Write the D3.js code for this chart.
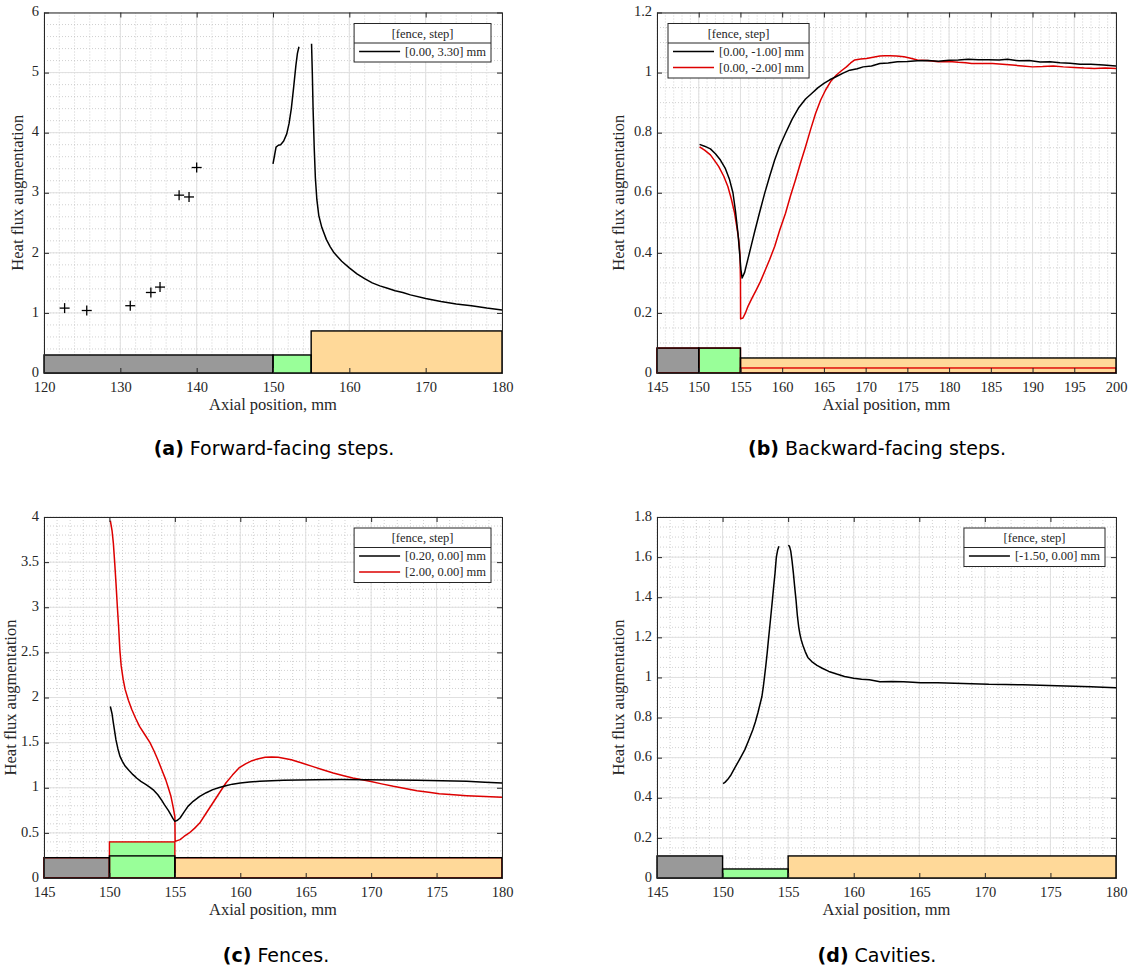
<!DOCTYPE html>
<html>
<head>
<meta charset="utf-8">
<script src="https://cdn.jsdelivr.net/npm/d3@7"></script>
<style>
    body { margin: 0; background: #fff; }
    svg text { font-family: "Liberation Serif", serif; fill: #262626; }
    svg text.caption { font-family: "DejaVu Sans", sans-serif; fill: #000; }
</style>
</head>
<body>
<svg id="fig" width="1131" height="970"></svg>
<script>
// ---- values ----

var xTicksA = [120, 130, 140, 150, 160, 170, 180];
var yTicksA = [0, 1, 2, 3, 4, 5, 6];
var xTicksB = [145, 150, 155, 160, 165, 170, 175, 180, 185, 190, 195, 200];
var yTicksB = [0, 0.2, 0.4, 0.6, 0.8, 1, 1.2];
var xTicksCD = [145, 150, 155, 160, 165, 170, 175, 180];
var yTicksC = [0, 0.5, 1, 1.5, 2, 2.5, 3, 3.5, 4];
var yTicksD = [0, 0.2, 0.4, 0.6, 0.8, 1, 1.2, 1.4, 1.6, 1.8];

var legendTitle = "[fence, step]";
var fwdLabels = ["[0.00, 3.30] mm"];
var bwdLabels = ["[0.00, -1.00] mm", "[0.00, -2.00] mm"];
var fenceLabels = ["[0.20, 0.00] mm", "[2.00, 0.00] mm"];
var cavityLabels = ["[-1.50, 0.00] mm"];

var captionTags = ["(a)", "(b)", "(c)", "(d)"];
var captionTexts = [" Forward-facing steps.", " Backward-facing steps.", " Fences.", " Cavities."];

// forward-facing step: scattered points upstream, then the profile in two pieces
var fwdMarkers = [[122.7, 1.08], [125.6, 1.04], [131.3, 1.12], [134.0, 1.34], [135.2, 1.43],
    [137.7, 2.96], [139.0, 2.93], [140.0, 3.42]];
var fwdRise = [[150.0, 3.48], [150.2, 3.62], [150.4, 3.76], [150.7, 3.79], [151.0, 3.80], [151.4, 3.86],
    [151.8, 3.98], [152.1, 4.15], [152.4, 4.40], [152.7, 4.75], [153.0, 5.12], [153.2, 5.32], [153.4, 5.43]];
var fwdFall = [[155.05, 5.48], [155.15, 5.0], [155.25, 4.4], [155.4, 3.75], [155.55, 3.25], [155.75, 2.88],
    [156.0, 2.62], [156.4, 2.42], [157.0, 2.22], [157.5, 2.10], [158, 2.0], [159, 1.86], [160, 1.75],
    [161, 1.65], [162, 1.57], [163, 1.50], [164, 1.45], [165, 1.41], [166, 1.37], [167, 1.34], [168, 1.30],
    [170, 1.24], [172, 1.19], [174, 1.15], [176, 1.12], [178, 1.08], [180, 1.05]];
var fwdGeometry = [[120, 150, 0.30], [150, 155, 0.30], [155, 180, 0.70]];

// backward-facing steps
var bwdStep1 = [[150.1, 0.761], [150.7, 0.755], [151.4, 0.746], [152.0, 0.730], [152.6, 0.709], [153.2, 0.680],
    [153.7, 0.643], [154.1, 0.600], [154.4, 0.540], [154.7, 0.465], [154.9, 0.400], [155.05, 0.345],
    [155.2, 0.316], [155.5, 0.335], [155.9, 0.380], [156.3, 0.425], [156.7, 0.470], [157.3, 0.535],
    [157.9, 0.598], [158.5, 0.655], [159.1, 0.709], [159.7, 0.755], [160.4, 0.798], [161.2, 0.845],
    [162.0, 0.884], [162.8, 0.912], [163.6, 0.932], [164.3, 0.950], [165.0, 0.964], [165.7, 0.976],
    [166.5, 0.987], [167.3, 0.998], [168.1, 1.008], [169.0, 1.013], [169.7, 1.019], [170.7, 1.022],
    [171.7, 1.030], [172.7, 1.032], [173.8, 1.036], [175.0, 1.037], [176.2, 1.039], [177.5, 1.040],
    [178.7, 1.038], [180.0, 1.041], [181.1, 1.042], [182.3, 1.044], [183.5, 1.043], [184.7, 1.043],
    [186.0, 1.042], [187.0, 1.044], [188.4, 1.039], [189.6, 1.040], [190.9, 1.035], [192.1, 1.036],
    [193.3, 1.033], [194.5, 1.031], [195.7, 1.028], [197.0, 1.028], [198.5, 1.025], [200, 1.022]];
var bwdStep2 = [[150.1, 0.753], [150.7, 0.742], [151.4, 0.726], [151.9, 0.707], [152.4, 0.687], [153.0, 0.655],
    [153.5, 0.620], [153.9, 0.580], [154.3, 0.532], [154.6, 0.480], [154.8, 0.443], [154.95, 0.39],
    [155.0, 0.31], [155.02, 0.18], [155.3, 0.183], [155.6, 0.200], [155.9, 0.222], [156.4, 0.250],
    [156.9, 0.277], [157.4, 0.305], [157.9, 0.338], [158.5, 0.378], [159.1, 0.421], [159.7, 0.475],
    [160.4, 0.532], [161.0, 0.590], [161.6, 0.643], [162.2, 0.700], [162.8, 0.753], [163.4, 0.810],
    [164.0, 0.864], [164.6, 0.908], [165.2, 0.942], [165.8, 0.970], [166.5, 0.992], [167.1, 1.006],
    [167.7, 1.019], [168.2, 1.032], [168.7, 1.042], [169.4, 1.045], [170.1, 1.047], [170.9, 1.051],
    [171.7, 1.055], [172.3, 1.056], [172.9, 1.056], [173.7, 1.055], [174.6, 1.053], [175.4, 1.048],
    [176.2, 1.042], [177.4, 1.040], [178.7, 1.036], [180.0, 1.037], [181.1, 1.034], [182.0, 1.033],
    [182.7, 1.030], [184.0, 1.030], [185.2, 1.030], [186.4, 1.028], [187.6, 1.025], [188.8, 1.022],
    [190.0, 1.019], [191.2, 1.020], [192.5, 1.022], [193.7, 1.019], [195.0, 1.017], [196.2, 1.015],
    [197.4, 1.014], [198.7, 1.015], [200, 1.014]];
var bwdGeometry1 = [[145, 150, 0.083], [150, 155, 0.083], [155, 200, 0.05]];
var bwdGeometry2 = [[145, 150, 0.083], [150, 155, 0.083], [155, 200, 0.0167]];

// fences
var fence02 = [[150.07, 1.90], [150.2, 1.82], [150.3, 1.72], [150.5, 1.53], [150.65, 1.43], [150.8, 1.35],
    [151.0, 1.29], [151.2, 1.24], [151.5, 1.19], [151.8, 1.145], [152.1, 1.105], [152.4, 1.07],
    [152.8, 1.035], [153.1, 1.005], [153.4, 0.97], [153.7, 0.923], [154.0, 0.86], [154.2, 0.813],
    [154.5, 0.75], [154.7, 0.70], [154.85, 0.66], [155.0, 0.628], [155.2, 0.640], [155.4, 0.665],
    [155.7, 0.73], [156.0, 0.794], [156.4, 0.850], [156.9, 0.905], [157.4, 0.945], [157.9, 0.979],
    [158.4, 1.003], [158.9, 1.023], [159.4, 1.040], [160.0, 1.053], [160.7, 1.063], [161.5, 1.071],
    [162.4, 1.077], [163.3, 1.082], [164.5, 1.087], [165.8, 1.090], [167.7, 1.091], [169.6, 1.090],
    [171.5, 1.087], [173.5, 1.082], [175.4, 1.077], [177.3, 1.071], [178.7, 1.062], [180, 1.053]];
var fence20 = [[150.07, 3.96], [150.2, 3.85], [150.3, 3.71], [150.4, 3.50], [150.5, 3.27], [150.6, 3.02],
    [150.7, 2.79], [150.8, 2.52], [150.9, 2.35], [151.05, 2.2], [151.2, 2.09], [151.45, 1.97],
    [151.7, 1.87], [152.0, 1.77], [152.3, 1.68], [152.7, 1.59], [153.1, 1.50], [153.4, 1.41],
    [153.7, 1.31], [154.0, 1.20], [154.3, 1.09], [154.5, 1.00], [154.7, 0.905], [154.85, 0.80],
    [155.0, 0.683], [155.02, 0.406], [155.4, 0.425], [155.7, 0.46], [156.1, 0.499], [156.5, 0.550],
    [156.9, 0.609], [157.4, 0.720], [157.9, 0.831], [158.4, 0.942], [158.9, 1.053], [159.4, 1.140],
    [159.9, 1.219], [160.4, 1.265], [160.9, 1.300], [161.4, 1.322], [161.9, 1.337], [162.4, 1.340],
    [162.9, 1.337], [163.4, 1.325], [163.9, 1.311], [164.7, 1.275], [165.5, 1.237], [166.3, 1.200],
    [167.1, 1.163], [167.9, 1.133], [168.6, 1.108], [169.3, 1.088], [169.9, 1.071], [170.8, 1.043],
    [171.7, 1.016], [172.6, 0.992], [173.5, 0.968], [174.4, 0.950], [175.2, 0.934], [176.3, 0.922],
    [177.3, 0.912], [178.7, 0.902], [180, 0.894]];
var fenceGeometry02 = [[145, 150, 0.225], [150, 155, 0.245], [155, 180, 0.225]];
var fenceGeometry20 = [[145, 150, 0.225], [150, 155, 0.40], [155, 180, 0.225]];

// cavity
var cavityRise = [[150.04, 0.471], [150.2, 0.478], [150.4, 0.492], [150.65, 0.515], [150.9, 0.545],
    [151.3, 0.592], [151.7, 0.640], [152.0, 0.688], [152.3, 0.738], [152.5, 0.778], [152.7, 0.825],
    [152.85, 0.865], [153.0, 0.905], [153.1, 0.950], [153.2, 1.004], [153.3, 1.06], [153.4, 1.121],
    [153.5, 1.19], [153.6, 1.254], [153.7, 1.32], [153.8, 1.387], [153.9, 1.455], [154.0, 1.520],
    [154.1, 1.600], [154.2, 1.635], [154.3, 1.654]];
var cavityFall = [[155.0, 1.659], [155.1, 1.655], [155.2, 1.630], [155.3, 1.58], [155.4, 1.520], [155.5, 1.45],
    [155.6, 1.387], [155.7, 1.31], [155.8, 1.254], [155.9, 1.215], [156.0, 1.187], [156.15, 1.155],
    [156.3, 1.129], [156.5, 1.10], [156.8, 1.079], [157.2, 1.060], [157.6, 1.046], [158.1, 1.030],
    [158.7, 1.017], [159.3, 1.005], [160.0, 0.996], [160.6, 0.991], [161.2, 0.988], [161.6, 0.984],
    [162.0, 0.979], [162.9, 0.980], [163.8, 0.979], [164.5, 0.976], [165.1, 0.974], [166.4, 0.973],
    [167.7, 0.971], [169.0, 0.969], [170.3, 0.966], [171.6, 0.965], [172.9, 0.963], [174.2, 0.961],
    [175.5, 0.958], [176.8, 0.956], [178.1, 0.954], [179.0, 0.951], [180, 0.949]];
var cavityGeometry = [[145, 150, 0.11], [150, 155, 0.045], [155, 180, 0.11]];

// ---- styling / layout ----
var BLACK = "#000000", RED = "#dd0000", AXIS = "#262626";
var blockFills = ["#999999", "#99ff99", "#ffd999"];   // wall, feature, downstream

var svg = d3.select("#fig");
svg.append("rect").attr("width", 1131).attr("height", 970).attr("fill", "#fff");

var panels = [
    { key: "a", left: 44, top: 12.5, w: 458, h: 360.5, xd: [120, 180], yd: [0, 6], xt: xTicksA, yt: yTicksA,
      xm: 2, ym: 0.2, ylabelX: 23, legendRight: true, labels: fwdLabels, markers: fwdMarkers,
      series: [{ segs: [fwdRise, fwdFall], color: BLACK, geom: fwdGeometry }], capY: 455, capX: 274 },
    { key: "b", left: 657, top: 12.5, w: 459, h: 360.5, xd: [145, 200], yd: [0, 1.2], xt: xTicksB, yt: yTicksB,
      xm: 1, ym: 0.05, ylabelX: 624, legendRight: false, labels: bwdLabels,
      series: [{ segs: [bwdStep1], color: BLACK, geom: bwdGeometry1 },
               { segs: [bwdStep2], color: RED, geom: bwdGeometry2 }], capY: 455, capX: 877 },
    { key: "c", left: 44, top: 517, w: 458, h: 361, xd: [145, 180], yd: [0, 4], xt: xTicksCD, yt: yTicksC,
      xm: 1, ym: 0.1, ylabelX: 15.5, legendRight: true, labels: fenceLabels,
      series: [{ segs: [fence02], color: BLACK, geom: fenceGeometry02 },
               { segs: [fence20], color: RED, geom: fenceGeometry20 }], capY: 962, capX: 276 },
    { key: "d", left: 657, top: 517, w: 459, h: 361, xd: [145, 180], yd: [0, 1.8], xt: xTicksCD, yt: yTicksD,
      xm: 1, ym: 0.05, ylabelX: 624, legendRight: true, labels: cavityLabels,
      series: [{ segs: [cavityRise, cavityFall], color: BLACK, geom: cavityGeometry }], capY: 962, capX: 877 }
];

function minorTicks(domain, step){
    var n = Math.round((domain[1] - domain[0]) / step);
    return d3.range(n + 1).map(function(i){ return domain[0] + i * step; });
}

function fmtTick(v){ return String(+v.toFixed(3)); }

function drawPanel(p, idx){
    var x = d3.scaleLinear().domain(p.xd).range([p.left, p.left + p.w]);
    var y = d3.scaleLinear().domain(p.yd).range([p.top + p.h, p.top]);
    var g = svg.append("g").attr("class", "panel-" + p.key);

    var clipId = "clip-" + p.key;
    svg.append("clipPath").attr("id", clipId).append("rect")
        .attr("x", p.left).attr("y", p.top).attr("width", p.w).attr("height", p.h);

    // minor grid (dotted) then major grid
    g.selectAll(".xminor").data(minorTicks(p.xd, p.xm)).enter().append("line")
        .attr("x1", x).attr("x2", x).attr("y1", p.top).attr("y2", p.top + p.h)
        .attr("stroke", "#bdbdbd").attr("stroke-width", 0.7).attr("stroke-dasharray", "1,2");
    g.selectAll(".yminor").data(minorTicks(p.yd, p.ym)).enter().append("line")
        .attr("y1", y).attr("y2", y).attr("x1", p.left).attr("x2", p.left + p.w)
        .attr("stroke", "#bdbdbd").attr("stroke-width", 0.7).attr("stroke-dasharray", "1,2");
    g.selectAll(".xmajor").data(p.xt).enter().append("line")
        .attr("x1", x).attr("x2", x).attr("y1", p.top).attr("y2", p.top + p.h)
        .attr("stroke", "#e0e0e0").attr("stroke-width", 1);
    g.selectAll(".ymajor").data(p.yt).enter().append("line")
        .attr("y1", y).attr("y2", y).attr("x1", p.left).attr("x2", p.left + p.w)
        .attr("stroke", "#e0e0e0").attr("stroke-width", 1);

    // model geometry: fills take the tallest block of every series
    var fills = p.series[0].geom.map(function(b, i){
        var hmax = d3.max(p.series, function(s){ return s.geom[i][2]; });
        return [b[0], b[1], hmax];
    });
    g.selectAll(".block").data(fills).enter().append("rect")
        .attr("x", function(d){ return x(d[0]); })
        .attr("width", function(d){ return x(d[1]) - x(d[0]); })
        .attr("y", function(d){ return y(d[2]); })
        .attr("height", function(d){ return y(0) - y(d[2]); })
        .attr("fill", function(d, i){ return blockFills[i]; });
    // outlines, last series first so the black one ends on top
    p.series.slice().reverse().forEach(function(s){
        g.append("g").selectAll("rect").data(s.geom).enter().append("rect")
            .attr("x", function(d){ return x(d[0]); })
            .attr("width", function(d){ return x(d[1]) - x(d[0]); })
            .attr("y", function(d){ return y(d[2]); })
            .attr("height", function(d){ return y(0) - y(d[2]); })
            .attr("fill", "none").attr("stroke", s.color).attr("stroke-width", 1.4);
    });

    // data lines
    var line = d3.line().x(function(d){ return x(d[0]); }).y(function(d){ return y(d[1]); });
    var lines = g.append("g").attr("clip-path", "url(#" + clipId + ")");
    p.series.slice().reverse().forEach(function(s){
        s.segs.forEach(function(seg){
            lines.append("path").datum(seg).attr("d", line)
                .attr("fill", "none").attr("stroke", s.color).attr("stroke-width", 1.5)
                .attr("stroke-linejoin", "round");
        });
    });

    if(p.markers){
        var m = g.selectAll(".marker").data(p.markers).enter().append("g")
            .attr("transform", function(d){ return "translate(" + x(d[0]) + "," + y(d[1]) + ")"; });
        m.append("line").attr("x1", -5).attr("x2", 5).attr("stroke", BLACK).attr("stroke-width", 1.3);
        m.append("line").attr("y1", -5).attr("y2", 5).attr("stroke", BLACK).attr("stroke-width", 1.3);
    }

    // axes with inward ticks on all four sides
    var tk = 5;
    var ax = g.append("g").attr("transform", "translate(0," + (p.top + p.h) + ")")
        .call(d3.axisBottom(x).tickValues(p.xt).tickSizeInner(-tk).tickSizeOuter(0).tickPadding(9).tickFormat(fmtTick));
    var ay = g.append("g").attr("transform", "translate(" + p.left + ",0)")
        .call(d3.axisLeft(y).tickValues(p.yt).tickSizeInner(-tk).tickSizeOuter(0).tickPadding(5).tickFormat(fmtTick));
    var at = g.append("g").attr("transform", "translate(0," + p.top + ")")
        .call(d3.axisTop(x).tickValues(p.xt).tickSizeInner(-tk).tickSizeOuter(0).tickFormat(""));
    var ar = g.append("g").attr("transform", "translate(" + (p.left + p.w) + ",0)")
        .call(d3.axisRight(y).tickValues(p.yt).tickSizeInner(-tk).tickSizeOuter(0).tickFormat(""));
    [ax, ay, at, ar].forEach(function(a){
        a.selectAll("path, line").attr("stroke", AXIS).attr("stroke-width", 1);
        a.selectAll("text").attr("font-family", "Liberation Serif").attr("font-size", 14.5).attr("fill", AXIS);
    });
    // the y labels sit a touch high, like the reference
    ay.selectAll("text").attr("dy", "0.22em");

    g.append("text").attr("x", p.left + p.w / 2).attr("y", p.top + p.h + 37)
        .attr("text-anchor", "middle").attr("font-size", 16.5).text("Axial position, mm");
    g.append("text").attr("transform", "translate(" + p.ylabelX + "," + (p.top + p.h / 2) + ") rotate(-90)")
        .attr("text-anchor", "middle").attr("font-size", 16.5).text("Heat flux augmentation");

    drawLegend(g, p);

    var cap = svg.append("text").attr("class", "caption").attr("x", p.capX).attr("y", p.capY)
        .attr("text-anchor", "middle").attr("font-size", 19);
    cap.append("tspan").attr("font-weight", "bold").text(captionTags[idx]);
    cap.append("tspan").text(captionTexts[idx]);
}

function drawLegend(g, p){
    var lg = g.append("g");
    var texts = [];
    var titleH = 19.5, rowH = 16, lineLen = 41;
    var top = p.top + 11;
    p.labels.forEach(function(lab, i){
        texts.push(lg.append("text").attr("font-size", 12.5).attr("y", top + titleH + 12.5 + i * rowH).text(lab));
    });
    var tw = d3.max(texts, function(t){ return t.node().getComputedTextLength(); });
    var w = 5 + lineLen + 5 + tw + 5;
    var h = titleH + p.labels.length * rowH + 3;
    var left = p.legendRight ? p.left + p.w - 11 - w : p.left + 11;
    lg.insert("rect", ":first-child").attr("x", left).attr("y", top).attr("width", w).attr("height", h)
        .attr("fill", "#fff").attr("stroke", AXIS).attr("stroke-width", 1);
    lg.append("line").attr("x1", left).attr("x2", left + w).attr("y1", top + titleH).attr("y2", top + titleH)
        .attr("stroke", AXIS).attr("stroke-width", 1);
    lg.append("text").attr("x", left + w / 2).attr("y", top + 14).attr("text-anchor", "middle")
        .attr("font-size", 12.5).text(legendTitle);
    texts.forEach(function(t, i){
        t.attr("x", left + 5 + lineLen + 5);
        var ly = top + titleH + 8.5 + i * rowH;
        lg.append("line").attr("x1", left + 5).attr("x2", left + 5 + lineLen).attr("y1", ly).attr("y2", ly)
            .attr("stroke", p.series[i].color).attr("stroke-width", 1.5);
    });
}

panels.forEach(drawPanel);
</script>
</body>
</html>
